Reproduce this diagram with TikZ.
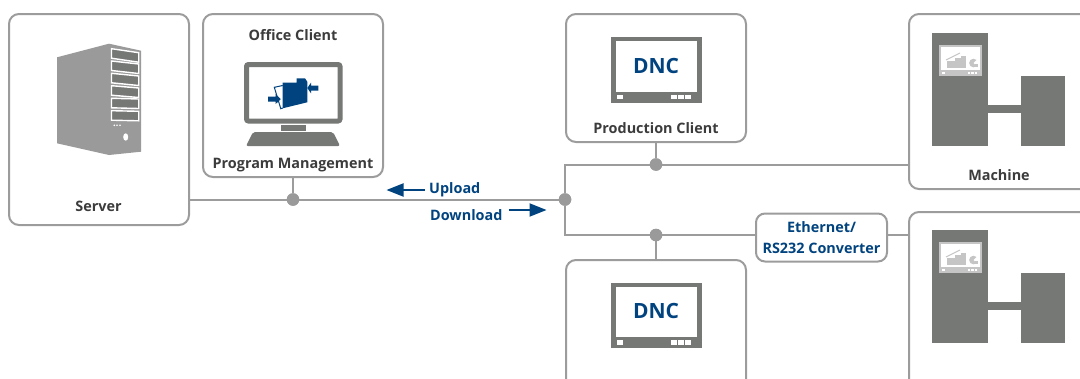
\documentclass[tikz,border=0pt]{standalone}
\usepackage{fontspec}
\setmainfont{Open Sans}
\usetikzlibrary{arrows.meta,positioning}
\definecolor{wiregray}{HTML}{9B9C9B}
\definecolor{darkgray}{HTML}{767876}
\definecolor{midgray}{HTML}{999A99}
\definecolor{lightgray}{HTML}{C4C5C4}
\definecolor{textgray}{HTML}{3C3C3C}
\definecolor{dncblue}{HTML}{00437F}
\tikzset{
  x=1pt, y=-1pt,
  devicebox/.style={draw=wiregray,line width=2pt,rounded corners=10pt,fill=white,inner sep=0pt,outer sep=0pt},
  wire/.style={draw=wiregray,line width=2pt},
  joint/.style={circle,fill=midgray,inner sep=0pt,minimum size=12.5pt},
  label/.style={font=\bfseries\fontsize{14.4}{21}\selectfont,text=textgray,inner sep=0pt,anchor=base},
  bluelabel/.style={label,text=dncblue,align=center},
  flow/.style={draw=dncblue,line width=2pt,-{Triangle[length=17pt,width=13pt]}},
  dncscreen/.pic={
    \fill[darkgray] (610.7,37.3) rectangle (701.7,102.7);
    \fill[white] (615.7,41.3) rectangle (697,91.7);
    \fill[white] (616.7,95) rectangle (622.7,99.3);
    \fill[white] (670.7,95) rectangle (676.7,99.3);
    \fill[white] (678,95) rectangle (684,99.3);
    \fill[white] (685.3,95) rectangle (691.3,99.3);
    \node (-text) at (656,66) [font=\bfseries\fontsize{21}{21}\selectfont,text=dncblue,inner sep=0pt] {DNC};
  },
  machineicon/.pic={
    \fill[darkgray] (932,33) rectangle (988,146);
    \fill[darkgray] (1021,76) rectangle (1065,146);
    \fill[darkgray] (988,105) rectangle (1021,113);
    \fill[lightgray] (939.3,45) rectangle (982,76);
    \fill[white] (941.3,47) rectangle (980,70);
    \fill[lightgray] (946.7,61.3) rectangle (955,67.5);
    \fill[lightgray] (955,58) rectangle (961,67.5);
    \fill[lightgray] (961,56) rectangle (965.7,67.5);
    \draw[lightgray,line width=1pt] (946,60) -- (960,53);
    \fill[lightgray] (973.3,63) -- (976.5,60) arc (-45:-315:4.3) -- cycle;
    \fill[lightgray] (975,64) rectangle (977.8,67);
    \fill[white] (942,72) rectangle (944.5,74);
    \fill[white] (967.5,72) rectangle (970,74);
    \fill[white] (971,72) rectangle (973.5,74);
    \fill[white] (974.5,72) rectangle (977,74);
  }
}
\begin{document}
\begin{tikzpicture}
    \useasboundingbox (0,0) rectangle (1080,378);
    \clip (0,0) rectangle (1080,378);
    % boxes
    \node (server) [devicebox,minimum width=180pt,minimum height=211pt] at (99,119.5) {};
    \node (office) [devicebox,minimum width=180pt,minimum height=163pt] at (293,95.5) {};
    \node (production) [devicebox,minimum width=180pt,minimum height=128pt] at (656,78) {};
    \node (clienttwo) [devicebox,minimum width=180pt,minimum height=140pt] at (656,330) {};
    \node (machineone) [devicebox,minimum width=200pt,minimum height=175pt] at (1009,101.5) {};
    \node (machinetwo) [devicebox,minimum width=200pt,minimum height=188pt] at (1009,306) {};
    \node (converter) [devicebox,rounded corners=9pt,minimum width=131pt,minimum height=48pt,bluelabel,anchor=center] at (821.5,237.5) {Ethernet/\\RS232 Converter};
    % wires
    \node (jointoffice) [joint] at (293,199.5) {};
    \node (hub) [joint] at (565,199.5) {};
    \node (jointprod) [joint] at (656,164.5) {};
    \node (jointclient) [joint] at (656,235) {};
    \draw[wire] (server.east |- hub) -- (jointoffice) -- (hub);
    \draw[wire] (office) -- (jointoffice);
    \draw[wire] (production) -- (jointprod);
    \draw[wire] (clienttwo) -- (jointclient);
    \draw[wire] (hub) |- (jointprod) -- (machineone.west |- jointprod);
    \draw[wire] (hub) |- (jointclient) -- (converter.west |- jointclient);
    \draw[wire] (converter.east |- jointclient) -- (machinetwo.west |- jointclient);
    \node[joint] at (jointoffice) {};
    \node[joint] at (hub) {};
    \node[joint] at (jointprod) {};
    \node[joint] at (jointclient) {};
    % server tower
    \fill[midgray] (57,57.3) -- (109,43.7) -- (141,50.7) -- (141,151.7) -- (109,155) -- (57,143.3) -- cycle;
    \foreach \lt/\rt in {48.7/52.7,61/64,73.3/76,85.7/88,98.3/99,110.7/111.3}
      \draw[white,fill=darkgray,line width=1.4pt] (111.5,\lt) -- (138.7,\rt) -- (138.7,\rt+9.5) -- (111.5,\lt+9.5) -- cycle;
    \foreach \dotx in {114.3,117,120}
      \fill[white] (\dotx,125.3) circle (0.9pt);
    \fill[white] (125.7,137) ellipse (2.5pt and 3.7pt);
    % office monitor
    \draw[darkgray,line width=5pt,rounded corners=2pt,fill=white] (246.5,64.5) rectangle (340,121);
    \fill[darkgray] (281,125) rectangle (306,131);
    \fill[darkgray,rounded corners=2pt] (246,146) -- (253,132) -- (333,132) -- (340,146) -- cycle;
    \fill[dncblue] (282.7,82.7) -- (296.7,82.7) -- (296.7,78.3) -- (305,78.3) -- (307.3,81.7) -- (307.3,102.3) -- (282.7,108.3) -- cycle;
    \draw[dncblue,line width=1pt] (282.7,85.5) -- (274.3,87.3) -- (280.8,108.7) -- (282.7,108);
    \fill[dncblue] (268,96.7) -- (275.7,96.7) -- (275.7,94) -- (280.7,99.2) -- (275.7,104) -- (275.7,101.7) -- (268,101.7) -- cycle;
    \fill[dncblue] (318.3,85.7) -- (311,85.7) -- (311,82.7) -- (307.3,88) -- (311,93.3) -- (311,90.7) -- (318.3,90.7) -- cycle;
    % screens and machines
    \pic (dncone) at (0,0) {dncscreen};
    \pic (dnctwo) at (0,245.3) {dncscreen};
    \pic (cncone) at (0,0) {machineicon};
    \pic (cnctwo) at (0,197) {machineicon};
    % labels
    \node (officelabel) [label] at (293,40) {Office Client};
    \node (programlabel) [label] at (293,168) {Program Management};
    \node (serverlabel) [label] at (98.5,211) {Server};
    \node (productionlabel) [label] at (656,133) {Production Client};
    \node (machinelabel) [label] at (999,180) {Machine};
    % transfer arrows
    \node (upload) [bluelabel,anchor=base west] at (429,193) {Upload};
    \node (download) [bluelabel,anchor=base west] at (430,220) {Download};
    \coordinate (uploadend) at (386.5,190);
    \coordinate (downloadend) at (546.5,210);
    \draw[flow] (upload.west |- uploadend) ++(-4.5,0) -- (uploadend);
    \draw[flow] (download.east |- downloadend) ++(6,0) -- (downloadend);
\end{tikzpicture}
\end{document}
